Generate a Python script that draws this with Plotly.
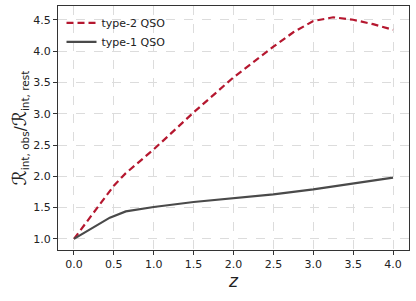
import plotly.graph_objects as go

z = [0.0, 0.25, 0.5, 0.65, 1.0, 1.5, 2.0, 2.5, 2.75, 3.0, 3.25, 3.5, 3.75, 4.0]
type2 = [1.0, 1.43, 1.85, 2.05, 2.43, 3.02, 3.58, 4.07, 4.30, 4.48, 4.54, 4.50, 4.43, 4.34]
z1 = [0.0, 0.2, 0.45, 0.65, 1.0, 1.5, 2.0, 2.5, 3.0, 3.5, 4.0]
type1 = [1.0, 1.15, 1.34, 1.44, 1.51, 1.59, 1.65, 1.71, 1.79, 1.88, 1.98]

xticks = [0.0, 0.5, 1.0, 1.5, 2.0, 2.5, 3.0, 3.5, 4.0]
yticks = [1.0, 1.5, 2.0, 2.5, 3.0, 3.5, 4.0, 4.5]

fig = go.Figure()
fig.add_trace(go.Scatter(x=z, y=type2, mode="lines", name="type-2 QSO",
                         line=dict(color="#b5172f", width=2.2, dash="7px,4px")))
fig.add_trace(go.Scatter(x=z1, y=type1, mode="lines", name="type-1 QSO",
                         line=dict(color="#4a4a4a", width=2.2)))

axis_common = dict(showline=True, linecolor="#333333", linewidth=1, mirror=True,
                   ticks="outside", ticklen=4, tickcolor="#333333",
                   showgrid=True, gridcolor="#dcdcdc", griddash="dash", gridwidth=1,
                   zeroline=False, automargin=False,
                   tickfont=dict(size=11, color="#222222", family="DejaVu Sans"))

fig.update_layout(
    width=416, height=301,
    margin=dict(l=58, r=7, t=6, b=51),
    plot_bgcolor="white", paper_bgcolor="white",
    showlegend=True,
    legend=dict(x=0.01, y=0.99, xanchor="left", yanchor="top", bgcolor="rgba(255,255,255,0)",
                font=dict(size=11, family="DejaVu Sans", color="#222222"), tracegroupgap=0),
    xaxis=dict(range=[-0.2, 4.2], tickvals=xticks, ticktext=[f"{v:.1f}" for v in xticks],
               title=dict(text="<i>z</i>", font=dict(size=17, family="DejaVu Sans", color="#222222"), standoff=4),
               **axis_common),
    yaxis=dict(range=[0.823, 4.72], tickvals=yticks, ticktext=[f"{v:.1f}" for v in yticks],
               title=dict(text="<span style='font-size:19px'>ℛ</span><sub>int, obs</sub>/<span style='font-size:19px'>ℛ</span><sub>int, rest</sub>",
                          font=dict(size=15, family="DejaVu Sans", color="#222222"), standoff=3),
               **axis_common),
)

fig.write_html("out.html", config={"displayModeBar": False},
               post_script="document.body.style.margin='0';")
